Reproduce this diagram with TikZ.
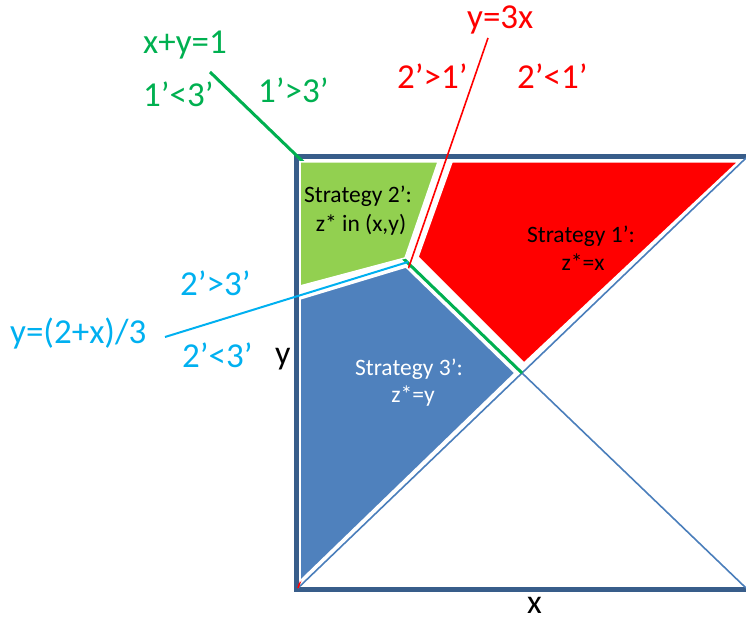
\documentclass[tikz,border=0pt]{standalone}
\usepackage{fontspec}
\setmainfont{Carlito}
\definecolor{frameblue}{RGB}{56,93,138}
\definecolor{diagblue}{RGB}{74,126,187}
\definecolor{offgreen}{RGB}{0,176,80}
\definecolor{offcyan}{RGB}{0,176,240}
\definecolor{fillgreen}{RGB}{146,208,80}
\definecolor{fillblue}{RGB}{79,129,189}
\definecolor{fillred}{RGB}{255,0,0}
\begin{document}
\begin{tikzpicture}[x=1pt,y=-1pt,
  biglbl/.style={inner sep=0pt, anchor=base west, font=\fontsize{35}{42}\selectfont},
  axlbl/.style={inner sep=0pt, anchor=base west, font=\fontsize{34}{40}\selectfont, text=black},
  stratlbl/.style={inner sep=0pt, anchor=base, font=\fontsize{23.5}{28}\selectfont},
  region/.style={draw=white, line width=1.5pt, line join=miter},
  diagline/.style={draw=diagblue, line width=1.6pt}]
\useasboundingbox (0,0) rectangle (746,620);
% frame
\draw[frameblue, line width=5pt] (296,156.5) rectangle (752,589);
% corners and key points
\coordinate (BL) at (298,588);
\coordinate (TL) at (298,158);
\coordinate (TR) at (746,158);
\coordinate (BR) at (746,588);
\coordinate (C) at (522,373);
\coordinate (G0) at (210,72);
\coordinate (R1) at (488,38);
\coordinate (K0) at (165,337);
\coordinate (P) at (408,262);
% lines
\draw[diagline] (BL) -- (TR);
\draw[diagline] (TL) -- (BR);
\draw[offgreen, line width=3pt] (G0) -- (C);
\draw[fillred, line width=1.6pt] (BL) -- (R1);
\draw[offcyan, line width=2pt] (K0) -- (P);
% regions
\fill[fillgreen, region] (300,162) -- (438,162) -- (405,258) -- (300,286) -- cycle;
\fill[fillblue, region] (300,299) -- (406,267) -- (515,373) -- (300,581) -- cycle;
\fill[fillred, region] (452,162) -- (738,162) -- (524,363) -- (418,257) -- cycle;
% labels
\node[biglbl, text=offgreen] (l1) at (143,54) {x+y=1};
\node[biglbl, text=offgreen] (l2) at (143,107) {1’<3’};
\node[biglbl, text=offgreen] (l3) at (258,103) {1’>3’};
\node[biglbl, text=fillred] (l4) at (467,29) {y=3x};
\node[biglbl, text=fillred] (l5) at (397,89) {2’>1’};
\node[biglbl, text=fillred] (l6) at (517,89) {2’<1’};
\node[biglbl, text=offcyan] (l7) at (10,343) {y=(2+x)/3};
\node[biglbl, text=offcyan] (l8) at (180,295) {2’>3’};
\node[biglbl, text=offcyan] (l9) at (182,367) {2’<3’};
\node[axlbl] (ly) at (275,364) {y};
\node[axlbl] (lx) at (527,613) {x};
\node[stratlbl, text=black] (s2a) at (358,203) {Strategy 2’:};
\node[stratlbl, text=black] (s2b) at (361,232) {z* in (x,y)};
\node[stratlbl, text=black] (s1a) at (581,242) {Strategy 1’:};
\node[stratlbl, text=black] (s1b) at (583,270) {z*=x};
\node[stratlbl, text=white] (s3a) at (409,375) {Strategy 3’:};
\node[stratlbl, text=white] (s3b) at (413,402) {z*=y};
\end{tikzpicture}
\end{document}
